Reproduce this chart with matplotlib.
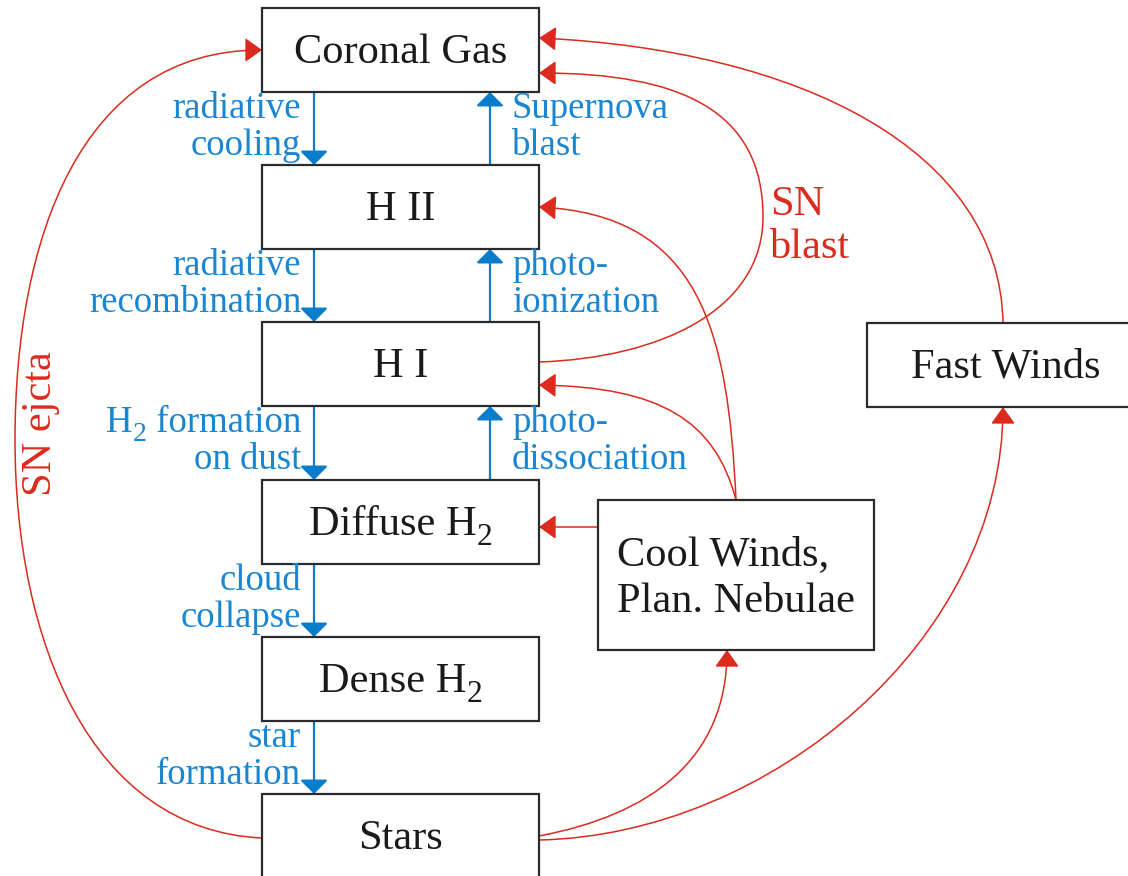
import numpy as np
import matplotlib.pyplot as plt
from matplotlib.patches import Rectangle, FancyArrowPatch
from matplotlib.path import Path

# ---------------------------------------------------------
# Diagram content
# ---------------------------------------------------------

phase_labels = ["Coronal Gas", "H II", "H I", "Diffuse H$_2$", "Dense H$_2$", "Stars"]
down_labels = ["radiative\ncooling", "radiative\nrecombination",
               "H$_2$ formation\non dust", "cloud\ncollapse", "star\nformation"]
up_labels = ["Supernova\nblast", "photo-\nionization", "photo-\ndissociation"]
fast_label = "Fast Winds"
cool_label = "Cool Winds,\nPlan. Nebulae"
blast_label = "SN\nblast"
ejecta_label = "SN ejcta"

# ---------------------------------------------------------
# Layout (pixel coordinates, y downwards)
# ---------------------------------------------------------

col_x0, col_x1 = 262, 539
box_h = 84
box_tops = [8, 165, 322, 480, 637, 794]
down_x, up_x = 314, 490

fast_box = (867, 323, 265, 84)
cool_box = (598, 500, 276, 150)

BLUE = "#0a7ccc"
BLUE_TXT = "#1a86d2"
RED = "#dc2a1e"
EDGE = "#2b2b2b"
INK = "#1a1a1a"

plt.rcParams["font.family"] = ["Liberation Serif", "DejaVu Serif"]

fig = plt.figure(figsize=(11.28, 8.76), dpi=100)
ax = fig.add_axes([0, 0, 1, 1])
ax.set_xlim(0, 1128)
ax.set_ylim(876, 0)
ax.axis("off")
renderer = fig.canvas.get_renderer()

BOX_FS = 30.5
LBL_FS = 26.5


def box(x, y, w, h):
    ax.add_patch(Rectangle((x, y), w, h, facecolor="white", edgecolor=EDGE,
                           lw=1.6, zorder=3))


def arrow(verts, color, lw, hl, hw, ms=1.0):
    verts = np.asarray(verts, float)
    if len(verts) == 2:
        codes = [Path.MOVETO, Path.LINETO]
    else:
        codes = [Path.MOVETO] + [Path.CURVE4] * (len(verts) - 1)
    p = FancyArrowPatch(path=Path(verts, codes),
                        arrowstyle=f"-|>,head_length={hl},head_width={hw}",
                        color=color, lw=lw, mutation_scale=ms, zorder=2)
    ax.add_patch(p)


def label(x, y, s, ha, fs, color):
    # text with a Times-style lowered subscript "2" (H2)
    if "$_2$" not in s:
        ax.text(x, y, s, fontsize=fs, ha=ha, va="baseline", color=color, zorder=4)
        return
    pre, post = s.split("$_2$")
    parts = [(pre, fs, 0), ("2", fs * 0.75, 10 * fs / BOX_FS), (post, fs, 0)]
    arts = []
    for txt, size, dy in parts:
        t = ax.text(0, y + dy, txt, fontsize=size, ha="left", va="baseline",
                    color=color, zorder=4)
        arts.append(t)
    widths = [t.get_window_extent(renderer).width if t.get_text() else 0
              for t in arts]
    total = sum(widths)
    x0 = {"left": x, "center": x - total / 2, "right": x - total}[ha]
    for t, w in zip(arts, widths):
        t.set_x(x0)
        x0 += w


# phase column
for lab, top in zip(phase_labels, box_tops):
    h = box_h if lab != "Stars" else 100
    box(col_x0, top, col_x1 - col_x0, h)
    label((col_x0 + col_x1) / 2, top + 55, lab, "center", BOX_FS, INK)

# side boxes
box(*fast_box)
label(1006, 378, fast_label, "center", BOX_FS, INK)
box(*cool_box)
for i, line in enumerate(cool_label.split("\n")):
    label(617, 565 + 47 * i, line, "left", BOX_FS, INK)

# blue downward transitions
for i, lab in enumerate(down_labels):
    y0 = box_tops[i] + box_h
    y1 = box_tops[i + 1]
    arrow([(down_x, y0), (down_x, y1)], BLUE, 1.6, 8.5, 8.5)
    for j, line in enumerate(lab.split("\n")):
        label(301, y0 + 26 + 37 * j, line, "right", LBL_FS, BLUE_TXT)

# blue upward transitions
for i, lab in enumerate(up_labels):
    y0 = box_tops[i + 1]
    y1 = box_tops[i] + box_h
    arrow([(up_x, y0), (up_x, y1)], BLUE, 1.6, 8.5, 8.5)
    for j, line in enumerate(lab.split("\n")):
        label(512, y1 + 26 + 37 * j, line, "left", LBL_FS, BLUE_TXT)

# red feedback curves
RLW = 1.1
RHL, RHW = 10.5, 7.5
# SN ejecta: stars -> coronal gas
arrow([(262, 838), (90, 830), (15, 640), (15, 440),
       (15, 240), (80, 50), (262, 50)], RED, RLW, RHL, RHW)
# SN blast: H I -> coronal gas
arrow([(539, 362), (660, 358), (763, 310), (763, 217),
       (763, 110), (680, 73), (539, 73)], RED, RLW, RHL, RHW)
# fast winds -> coronal gas
arrow([(1003, 323), (1000, 150), (800, 50), (539, 38)], RED, RLW, RHL, RHW)
# cool winds -> H II
arrow([(736, 500), (728, 330), (700, 215), (539, 207)], RED, RLW, RHL, RHW)
# cool winds -> H I
arrow([(736, 500), (715, 420), (660, 387), (539, 385)], RED, RLW, RHL, RHW)
# cool winds -> diffuse H2
arrow([(598, 527), (539, 527)], RED, RLW, RHL, RHW)
# stars -> cool winds
arrow([(539, 836), (650, 815), (727, 760), (727, 650)], RED, RLW, RHL, RHW)
# stars -> fast winds
arrow([(539, 840), (770, 835), (1003, 640), (1003, 407)], RED, RLW, RHL, RHW)

# red labels
for j, line in enumerate(blast_label.split("\n")):
    ax.text(770, 215 + 43 * j, line, fontsize=BOX_FS, ha="left",
            va="baseline", color=RED, zorder=4)
ax.text(41, 424, ejecta_label, fontsize=BOX_FS, rotation=90, ha="center",
        va="center", color=RED, zorder=4)

fig.savefig("out.png", dpi=100, facecolor="white")
